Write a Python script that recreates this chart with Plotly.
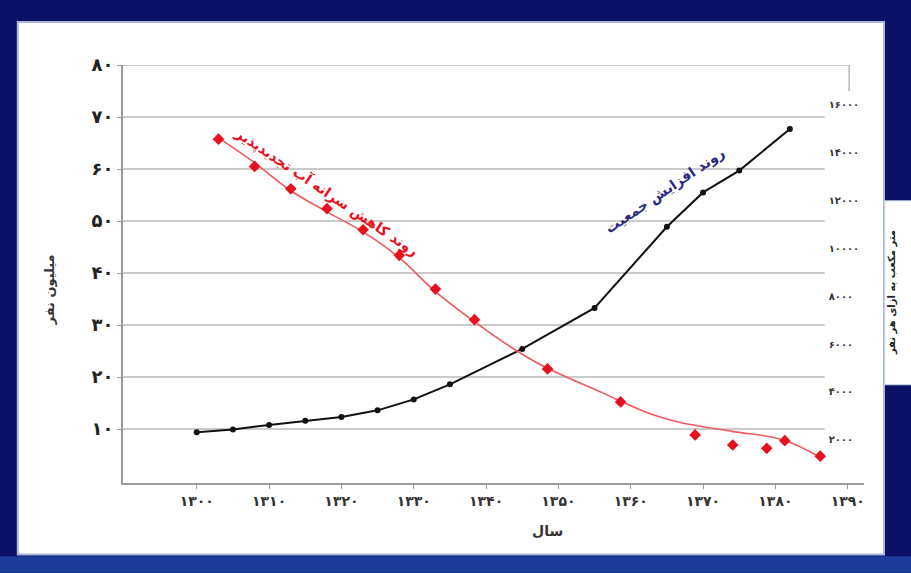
import plotly.graph_objects as go

# ---- data ----
pop_years = [1300, 1305, 1310, 1315, 1320, 1325, 1330, 1335, 1345, 1355, 1365, 1370, 1375, 1382]
pop_million = [9.4, 9.9, 10.8, 11.6, 12.3, 13.6, 15.7, 18.6, 25.4, 33.3, 48.9, 55.5, 59.7, 67.7]

water_years = [1303, 1308, 1313, 1318, 1323, 1328, 1333, 1338.4, 1348.5, 1358.6, 1368.9, 1374.1, 1378.8, 1381.3, 1386.2]
water_per_capita = [14570, 13430, 12490, 11660, 10780, 9710, 8300, 7020, 4960, 3580, 2200, 1780, 1640, 1960, 1310]

trend_years = [1303, 1308, 1313, 1318, 1323, 1328, 1333, 1338, 1344, 1348, 1356, 1363, 1367, 1374, 1381, 1386]
trend_values = [14620, 13580, 12410, 11530, 10690, 9610, 8190, 7020, 5760, 5060, 3970, 3050, 2710, 2350, 2000, 1300]

x_tick_vals = [1300, 1310, 1320, 1330, 1340, 1350, 1360, 1370, 1380, 1390]
x_tick_text = ["۱۳۰۰", "۱۳۱۰", "۱۳۲۰", "۱۳۳۰", "۱۳۴۰", "۱۳۵۰", "۱۳۶۰", "۱۳۷۰", "۱۳۸۰", "۱۳۹۰"]
y_tick_vals = [10, 20, 30, 40, 50, 60, 70, 80]
y_tick_text = ["۱۰", "۲۰", "۳۰", "۴۰", "۵۰", "۶۰", "۷۰", "۸۰"]
y2_tick_vals = [2000, 4000, 6000, 8000, 10000, 12000, 14000, 16000]
y2_tick_text = ["۲۰۰۰", "۴۰۰۰", "۶۰۰۰", "۸۰۰۰", "۱۰۰۰۰", "۱۲۰۰۰", "۱۴۰۰۰", "۱۶۰۰۰"]

FONT = "DejaVu Sans"

fig = go.Figure()

fig.add_trace(go.Scatter(
    x=trend_years, y=trend_values, yaxis="y2", mode="lines",
    line=dict(color="#f05a5a", width=1.6, shape="spline", smoothing=1.0),
    hoverinfo="skip", showlegend=False))

fig.add_trace(go.Scatter(
    x=water_years, y=water_per_capita, yaxis="y2", mode="markers",
    marker=dict(symbol="diamond", size=9, color="#e8101e"),
    showlegend=False))

fig.add_trace(go.Scatter(
    x=pop_years, y=pop_million, mode="lines+markers",
    line=dict(color="#111111", width=2),
    marker=dict(symbol="circle", size=6, color="#111111"),
    showlegend=False))

shapes = [
    # white panel
    dict(type="rect", xref="paper", yref="paper", x0=-0.142, x1=1.027, y0=-0.171, y1=1.103,
         fillcolor="white", line=dict(color="#a9b8d8", width=2), layer="below"),
    # lighter blue band at the bottom of the backdrop
    dict(type="rect", xref="paper", yref="paper", x0=-0.2, x1=1.1, y0=-0.215, y1=-0.175,
         fillcolor="#1c3c9c", line=dict(width=0), layer="below"),
    # right title box
    dict(type="rect", xref="paper", yref="paper", x0=1.028, x1=1.07, y0=0.235, y1=0.675,
         fillcolor="white", line=dict(color="#c8d4ee", width=1), layer="below"),
]
# horizontal gridlines that stop short of the right-hand labels (top one runs further)
for v in y_tick_vals:
    shapes.append(dict(type="line", xref="paper", yref="y", x0=0, x1=(0.98 if v == y_tick_vals[-1] else 0.947),
                       y0=v, y1=v, line=dict(color="#b8b8b8", width=1.5), layer="below"))
shapes.append(dict(type="line", xref="paper", yref="y", x0=0.98, x1=0.98, y0=y_tick_vals[-1], y1=y_tick_vals[-1] - 5,
                   line=dict(color="#b8b8b8", width=1.5), layer="below"))

annotations = [
    dict(text="<b>روند کاهش سرانه آب تجدیدپذیر</b>", x=1318.0, y=55.6, xref="x", yref="y",
         showarrow=False, textangle=34, font=dict(family=FONT, size=14, color="#e8101e")),
    dict(text="<b>روند افزایش جمعیت</b>", x=1364.8, y=55.8, xref="x", yref="y",
         showarrow=False, textangle=-34, font=dict(family=FONT, size=14, color="#2a2a82")),
    dict(text="<b>میلیون نفر</b>", x=-0.112, y=0.462, xref="paper", yref="paper",
         showarrow=False, textangle=-90, font=dict(family=FONT, size=13, color="#333333")),
    dict(text="<b>سال</b>", x=0.5735, y=-0.138, xref="paper", yref="paper",
         showarrow=False, font=dict(family=FONT, size=14, color="#333333")),
    dict(text="<b>متر مکعب به ازای هر نفر</b>", x=1.049, y=0.455, xref="paper", yref="paper",
         showarrow=False, textangle=-90, font=dict(family=FONT, size=10, color="#222222")),
]

fig.update_layout(
    width=911, height=573,
    margin=dict(l=123, r=47, t=65, b=90),
    paper_bgcolor="#0b1266",
    plot_bgcolor="white",
    font=dict(family=FONT, color="#222222"),
    showlegend=False,
    shapes=shapes,
    annotations=annotations,
    xaxis=dict(
        domain=[0, 1],
        range=[1289.8, 1392.25], tickvals=x_tick_vals, ticktext=x_tick_text,
        tickfont=dict(family=FONT, size=14, color="#333333", weight="bold"),
        showgrid=False, zeroline=False,
        showline=True, linecolor="#9a9a9a", linewidth=2,
        ticks="outside", ticklen=4, tickcolor="#9a9a9a",
    ),
    yaxis=dict(
        range=[-0.37, 80], tickvals=y_tick_vals, ticktext=y_tick_text,
        tickfont=dict(family=FONT, size=18, color="#222222", weight="bold"),
        showgrid=False, zeroline=False,
        showline=True, linecolor="#9a9a9a", linewidth=2,
        ticks="outside", ticklen=4, tickcolor="#9a9a9a",
    ),
    yaxis2=dict(
        range=[190, 17670], overlaying="y", side="right",
        anchor="free", position=0.951,
        tickvals=y2_tick_vals, ticktext=y2_tick_text,
        tickfont=dict(family=FONT, size=10, color="#333333", weight="bold"),
        ticks="", showgrid=False, zeroline=False, showline=False,
    ),
)

fig.write_html(
    "out.html",
    config={"displayModeBar": False},
    post_script="document.body.style.margin='0';document.body.style.overflow='hidden';",
)
